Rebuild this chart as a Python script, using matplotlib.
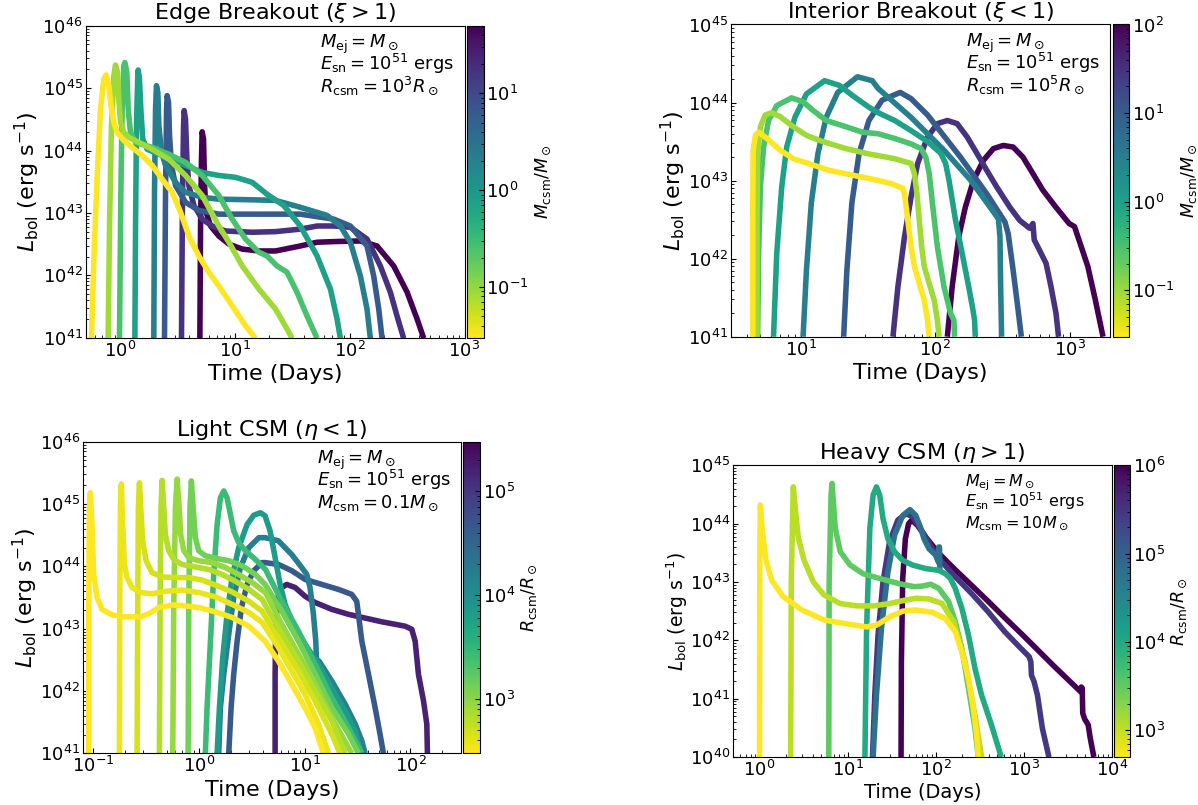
import numpy as np
import matplotlib
matplotlib.use("Agg")
import matplotlib.pyplot as plt
from matplotlib.colors import LogNorm
from matplotlib.cm import ScalarMappable

# ---------------- Panel 1: Edge breakout (colour = M_csm / M_sun) ----------------
edge_mcsm = [0.03, 0.087, 0.25, 0.73, 2.1, 6.1, 17.5, 50.0]
edge_logt = [
    [-0.249, -0.228, -0.199, -0.170, -0.141, -0.121, -0.098, -0.075, -0.054, -0.025, 0.033, 0.105, 0.193, 0.280, 0.367, 0.454, 0.527, 0.599, 0.686, 0.773, 0.860, 0.977, 1.093, 1.180],
    [-0.104, -0.092, -0.075, -0.054, -0.040, -0.022, -0.011, 0.004, 0.033, 0.076, 0.164, 0.280, 0.425, 0.570, 0.715, 0.860, 0.948, 1.064, 1.209, 1.354, 1.454, 1.498],
    [-0.005, 0.007, 0.018, 0.033, 0.042, 0.059, 0.071, 0.091, 0.135, 0.280, 0.425, 0.570, 0.715, 0.860, 0.977, 1.093, 1.209, 1.280, 1.367, 1.454, 1.541, 1.628, 1.716],
    [0.129, 0.135, 0.143, 0.155, 0.158, 0.169, 0.181, 0.198, 0.236, 0.338, 0.454, 0.570, 0.715, 0.860, 1.006, 1.151, 1.280, 1.425, 1.570, 1.716, 1.832, 1.890, 1.919],
    [0.294, 0.300, 0.309, 0.317, 0.329, 0.338, 0.361, 0.396, 0.483, 0.570, 0.715, 0.860, 1.151, 1.354, 1.570, 1.803, 1.919, 2.006, 2.093, 2.151, 2.180],
    [0.387, 0.396, 0.405, 0.410, 0.422, 0.431, 0.448, 0.483, 0.570, 0.686, 0.860, 1.151, 1.354, 1.570, 1.861, 2.006, 2.151, 2.209, 2.253, 2.282],
    [0.535, 0.544, 0.553, 0.558, 0.570, 0.582, 0.599, 0.643, 0.715, 0.802, 0.919, 1.151, 1.354, 1.570, 1.716, 1.861, 2.006, 2.151, 2.267, 2.354, 2.412, 2.470],
    [0.695, 0.701, 0.709, 0.715, 0.727, 0.736, 0.750, 0.788, 0.860, 0.948, 1.064, 1.209, 1.354, 1.570, 1.716, 1.861, 2.093, 2.238, 2.383, 2.500, 2.587, 2.645],
]
edge_logL = [
    [40.99, 42.26, 43.60, 44.66, 45.15, 45.21, 45.04, 44.66, 44.45, 44.29, 44.16, 44.05, 43.92, 43.76, 43.54, 43.33, 43.01, 42.63, 42.31, 42.05, 41.83, 41.51, 41.19, 40.99],
    [40.99, 42.79, 44.40, 45.20, 45.37, 45.25, 44.82, 44.45, 44.29, 44.21, 44.13, 44.02, 43.86, 43.60, 43.28, 42.79, 42.53, 42.15, 41.78, 41.46, 41.14, 40.99],
    [40.99, 43.33, 44.66, 45.36, 45.41, 45.25, 44.66, 44.29, 44.13, 44.05, 43.94, 43.81, 43.60, 43.28, 42.90, 42.58, 42.37, 42.31, 42.15, 42.05, 41.73, 41.35, 40.99],
    [40.99, 42.79, 44.40, 45.25, 45.29, 45.15, 44.66, 44.18, 44.02, 43.94, 43.86, 43.76, 43.65, 43.60, 43.57, 43.49, 43.30, 43.12, 42.79, 42.31, 41.78, 41.30, 40.99],
    [40.99, 43.33, 44.66, 45.04, 44.93, 44.40, 43.97, 43.76, 43.49, 43.33, 43.25, 43.22, 43.21, 43.20, 43.09, 42.96, 42.79, 42.53, 41.99, 41.46, 40.99],
    [40.99, 43.33, 44.66, 44.88, 44.77, 44.24, 43.76, 43.44, 43.17, 43.04, 42.98, 42.98, 42.98, 42.98, 42.90, 42.79, 42.47, 41.99, 41.46, 40.99],
    [40.99, 43.33, 44.40, 44.64, 44.50, 43.86, 43.44, 43.12, 42.90, 42.79, 42.71, 42.69, 42.70, 42.74, 42.79, 42.79, 42.77, 42.58, 42.15, 41.73, 41.35, 40.99],
    [40.99, 42.79, 43.86, 44.30, 44.18, 43.44, 43.01, 42.79, 42.63, 42.50, 42.42, 42.39, 42.39, 42.47, 42.53, 42.54, 42.55, 42.47, 42.15, 41.73, 41.30, 40.99],
]

# ---------------- Panel 2: Interior breakout (colour = M_csm / M_sun) ----------------
int_mcsm = [0.03, 0.095, 0.3, 0.97, 3.1, 9.8, 31.0, 100.0]
int_logt = [
    [0.641, 0.641, 0.644, 0.661, 0.685, 0.747, 0.845, 0.943, 1.090, 1.212, 1.384, 1.580, 1.673, 1.759, 1.771, 1.796, 1.820, 1.845, 1.881, 1.918, 1.943, 1.955],
    [0.673, 0.673, 0.678, 0.698, 0.734, 0.783, 0.845, 0.943, 1.041, 1.163, 1.335, 1.482, 1.575, 1.698, 1.820, 1.845, 1.864, 1.881, 1.899, 1.918, 1.955, 1.992, 2.016, 2.028],
    [0.678, 0.685, 0.698, 0.722, 0.759, 0.820, 0.930, 1.016, 1.090, 1.188, 1.335, 1.457, 1.575, 1.698, 1.820, 1.894, 1.930, 1.955, 1.979, 2.016, 2.065, 2.114, 2.139, 2.144],
    [0.796, 0.820, 0.857, 0.894, 0.955, 1.041, 1.176, 1.286, 1.384, 1.506, 1.575, 1.698, 1.820, 1.943, 2.041, 2.077, 2.102, 2.151, 2.200, 2.249, 2.281, 2.293, 2.298],
    [1.016, 1.041, 1.077, 1.127, 1.188, 1.274, 1.421, 1.531, 1.575, 1.820, 2.065, 2.261, 2.408, 2.470, 2.482, 2.487, 2.494],
    [1.318, 1.342, 1.379, 1.433, 1.506, 1.604, 1.739, 1.820, 1.943, 2.188, 2.384, 2.519, 2.543, 2.580, 2.617, 2.641],
    [1.685, 1.722, 1.771, 1.820, 1.869, 1.943, 2.016, 2.090, 2.163, 2.237, 2.310, 2.384, 2.457, 2.555, 2.629, 2.702, 2.727, 2.737, 2.764, 2.825, 2.862, 2.899, 2.918],
    [2.090, 2.126, 2.175, 2.224, 2.286, 2.359, 2.433, 2.506, 2.580, 2.653, 2.727, 2.800, 2.898, 2.997, 3.037, 3.136, 3.192, 3.249],
]
int_logL = [
    [41.0, 42.49, 43.39, 43.58, 43.62, 43.54, 43.39, 43.28, 43.20, 43.13, 43.07, 43.00, 42.96, 42.90, 42.83, 42.49, 42.15, 41.90, 41.68, 41.47, 41.21, 41.0],
    [41.0, 42.49, 43.35, 43.69, 43.84, 43.87, 43.82, 43.69, 43.58, 43.50, 43.41, 43.35, 43.32, 43.28, 43.22, 43.09, 42.83, 42.49, 42.15, 41.90, 41.68, 41.47, 41.21, 41.0],
    [41.0, 42.07, 42.92, 43.43, 43.77, 43.96, 44.06, 44.01, 43.90, 43.77, 43.69, 43.62, 43.60, 43.54, 43.47, 43.41, 43.30, 43.09, 42.71, 42.15, 41.64, 41.30, 41.21, 41.0],
    [41.0, 42.07, 42.92, 43.43, 43.81, 44.11, 44.28, 44.22, 44.09, 43.94, 43.87, 43.77, 43.64, 43.50, 43.35, 43.22, 43.01, 42.49, 42.07, 41.64, 41.34, 41.21, 41.0],
    [41.0, 41.85, 42.71, 43.35, 43.81, 44.13, 44.33, 44.28, 44.18, 43.81, 43.39, 43.01, 42.66, 42.51, 42.28, 41.64, 41.0],
    [41.0, 41.85, 42.71, 43.35, 43.77, 44.03, 44.13, 44.05, 43.84, 43.30, 42.83, 42.47, 42.32, 41.85, 41.34, 41.0],
    [41.0, 41.64, 42.28, 42.79, 43.22, 43.56, 43.73, 43.77, 43.73, 43.56, 43.35, 43.13, 42.92, 42.66, 42.49, 42.39, 42.45, 42.24, 42.15, 41.94, 41.64, 41.30, 41.0],
    [41.0, 41.64, 42.28, 42.66, 43.01, 43.26, 43.41, 43.45, 43.43, 43.30, 43.09, 42.88, 42.66, 42.45, 42.41, 41.90, 41.47, 41.0],
]

# ---------------- Panel 3: Light CSM (colour = R_csm / R_sun) ----------------
light_rcsm = [300, 370, 470, 640, 900, 1300, 2700, 7000, 16000, 45000, 160000]
light_logt = [
    [-1.040, -1.040, -1.034, -1.025, -1.009, -0.993, -0.961, -0.914, -0.820, -0.694, -0.552, -0.473, -0.379, -0.253, -0.158, -0.001, 0.157, 0.314, 0.472, 0.626, 0.752, 0.878, 1.004, 1.099, 1.177],
    [-0.750, -0.747, -0.741, -0.732, -0.719, -0.703, -0.678, -0.631, -0.552, -0.442, -0.316, -0.158, -0.001, 0.157, 0.314, 0.472, 0.598, 0.752, 0.878, 1.004, 1.130, 1.225],
    [-0.583, -0.577, -0.571, -0.561, -0.549, -0.530, -0.498, -0.442, -0.347, -0.221, -0.095, 0.031, 0.157, 0.314, 0.472, 0.598, 0.784, 0.941, 1.099, 1.256, 1.335],
    [-0.372, -0.366, -0.357, -0.347, -0.335, -0.316, -0.284, -0.237, -0.158, -0.032, 0.094, 0.220, 0.346, 0.472, 0.598, 0.784, 0.941, 1.099, 1.256, 1.382],
    [-0.246, -0.237, -0.221, -0.205, -0.190, -0.171, -0.142, -0.095, -0.001, 0.125, 0.251, 0.377, 0.504, 0.630, 0.784, 0.941, 1.099, 1.256, 1.445],
    [-0.101, -0.095, -0.083, -0.070, -0.054, -0.032, -0.001, 0.062, 0.157, 0.283, 0.409, 0.535, 0.626, 0.784, 0.941, 1.099, 1.256, 1.414, 1.508],
    [0.062, 0.078, 0.110, 0.141, 0.173, 0.204, 0.236, 0.267, 0.299, 0.330, 0.377, 0.441, 0.535, 0.630, 0.784, 0.941, 1.099, 1.256, 1.414, 1.540],
    [0.173, 0.195, 0.226, 0.267, 0.314, 0.377, 0.456, 0.519, 0.582, 0.626, 0.673, 0.721, 0.768, 0.815, 0.894, 1.004, 1.130, 1.256, 1.382, 1.477, 1.533],
    [0.188, 0.204, 0.236, 0.283, 0.330, 0.393, 0.472, 0.567, 0.626, 0.752, 0.878, 0.973, 1.020, 1.051, 1.083, 1.105, 1.117, 1.124, 1.136, 1.256, 1.382, 1.477, 1.540, 1.571],
    [0.283, 0.305, 0.330, 0.362, 0.403, 0.456, 0.519, 0.598, 0.626, 0.752, 0.878, 1.004, 1.162, 1.319, 1.445, 1.492, 1.508, 1.540, 1.603, 1.666, 1.713, 1.744],
    [0.721, 0.721, 0.727, 0.746, 0.784, 0.831, 0.910, 1.004, 1.099, 1.256, 1.414, 1.571, 1.729, 1.949, 2.012, 2.044, 2.075, 2.123, 2.154, 2.160],
]
light_logL = [
    [41.0, 43.34, 44.94, 45.18, 44.67, 43.87, 43.50, 43.31, 43.22, 43.19, 43.19, 43.24, 43.34, 43.38, 43.37, 43.34, 43.27, 43.18, 43.04, 42.80, 42.48, 42.11, 41.73, 41.41, 41.0],
    [41.0, 43.34, 44.94, 45.32, 44.67, 44.03, 43.82, 43.66, 43.58, 43.56, 43.60, 43.62, 43.58, 43.51, 43.39, 43.26, 43.10, 42.70, 42.32, 41.95, 41.47, 41.0],
    [41.0, 43.34, 44.94, 45.34, 44.94, 44.41, 44.09, 43.90, 43.83, 43.82, 43.82, 43.78, 43.70, 43.59, 43.44, 43.28, 42.75, 42.32, 41.84, 41.31, 41.0],
    [41.0, 43.34, 44.94, 45.38, 45.05, 44.51, 44.25, 44.11, 44.03, 43.99, 43.95, 43.87, 43.76, 43.63, 43.47, 42.91, 42.48, 42.00, 41.52, 41.0],
    [41.0, 43.34, 44.94, 45.40, 45.05, 44.51, 44.25, 44.14, 44.09, 44.06, 43.98, 43.87, 43.74, 43.58, 43.07, 42.59, 42.11, 41.57, 41.0],
    [41.0, 43.34, 44.94, 45.37, 44.94, 44.46, 44.25, 44.17, 44.13, 44.09, 44.01, 43.87, 43.71, 43.28, 42.80, 42.27, 41.73, 41.31, 41.0],
    [41.0, 41.73, 42.80, 43.87, 44.67, 45.10, 45.21, 45.10, 44.83, 44.57, 44.38, 44.25, 44.11, 43.95, 43.44, 42.96, 42.43, 41.89, 41.41, 41.0],
    [41.0, 41.73, 42.53, 43.23, 43.82, 44.30, 44.67, 44.82, 44.86, 44.81, 44.57, 44.14, 43.71, 43.39, 43.07, 42.75, 42.43, 42.05, 41.68, 41.36, 41.0],
    [41.0, 41.73, 42.27, 42.91, 43.50, 43.98, 44.30, 44.46, 44.46, 44.41, 44.19, 43.98, 43.87, 43.66, 43.23, 42.80, 42.27, 42.00, 42.48, 42.16, 41.79, 41.47, 41.20, 41.0],
    [41.0, 41.73, 42.27, 42.80, 43.34, 43.71, 43.93, 44.06, 44.06, 44.03, 43.93, 43.79, 43.71, 43.63, 43.55, 43.44, 43.23, 42.80, 42.27, 41.73, 41.30, 41.0],
    [41.0, 42.27, 43.07, 43.50, 43.66, 43.71, 43.66, 43.52, 43.42, 43.31, 43.23, 43.17, 43.11, 43.04, 42.99, 42.80, 42.27, 41.84, 41.47, 41.0],
]

# ---------------- Panel 4: Heavy CSM (colour = R_csm / R_sun) ----------------
heavy_rcsm = [500, 1100, 3300, 10000, 60000, 300000, 1000000]
heavy_logt = [
    [0.0, 0.003, 0.009, 0.030, 0.073, 0.138, 0.267, 0.482, 0.730, 0.954, 1.215, 1.327, 1.476, 1.625, 1.774, 1.960, 2.110, 2.221, 2.296, 2.371, 2.427, 2.464, 2.482],
    [0.353, 0.360, 0.383, 0.404, 0.439, 0.503, 0.611, 0.730, 0.916, 1.103, 1.289, 1.476, 1.625, 1.774, 1.923, 2.072, 2.203, 2.333, 2.445, 2.520],
    [0.786, 0.790, 0.812, 0.823, 0.860, 0.916, 1.028, 1.177, 1.364, 1.588, 1.755, 1.849, 1.942, 2.035, 2.147, 2.221, 2.296, 2.371, 2.445, 2.482],
    [1.196, 1.215, 1.252, 1.289, 1.327, 1.364, 1.401, 1.457, 1.532, 1.625, 1.737, 1.886, 2.035, 2.110, 2.166, 2.221, 2.296, 2.371, 2.445, 2.520, 2.632, 2.743],
    [1.289, 1.327, 1.383, 1.457, 1.532, 1.625, 1.707, 1.774, 1.830, 1.867, 1.923, 1.998, 2.030, 2.035, 2.042, 2.046],
    [1.282, 1.308, 1.345, 1.401, 1.476, 1.569, 1.662, 1.737, 1.849, 1.960, 2.072, 2.221, 2.408, 2.594, 2.781, 2.967, 3.060, 3.079, 3.086, 3.116, 3.154, 3.210, 3.284],
    [1.606, 1.610, 1.625, 1.655, 1.692, 1.729, 1.793, 1.886, 2.035, 2.221, 2.408, 2.594, 2.781, 2.967, 3.154, 3.340, 3.526, 3.643, 3.652, 3.662, 3.668, 3.690, 3.730, 3.750, 3.794],
]
heavy_logL = [
    [40.0, 43.50, 44.32, 43.89, 43.38, 43.03, 42.75, 42.52, 42.35, 42.29, 42.23, 42.26, 42.40, 42.50, 42.52, 42.48, 42.37, 42.15, 41.80, 41.35, 40.83, 40.38, 40.0],
    [40.0, 43.00, 44.63, 44.29, 43.77, 43.38, 43.00, 42.78, 42.63, 42.59, 42.59, 42.63, 42.68, 42.72, 42.71, 42.63, 42.32, 41.63, 40.72, 40.0],
    [40.0, 43.00, 44.50, 44.69, 43.92, 43.52, 43.29, 43.14, 43.06, 42.97, 42.92, 42.93, 42.96, 42.89, 42.66, 42.32, 41.86, 41.18, 40.49, 40.0],
    [40.0, 42.20, 43.92, 44.49, 44.63, 44.49, 44.09, 43.74, 43.52, 43.37, 43.29, 43.23, 43.20, 43.14, 43.06, 42.89, 42.55, 42.09, 41.52, 41.06, 40.55, 40.0],
    [40.0, 41.06, 42.20, 43.17, 43.80, 44.14, 44.24, 44.14, 43.92, 43.74, 43.57, 43.46, 43.34, 43.60, 43.60, 43.20],
    [40.0, 41.06, 42.09, 43.00, 43.69, 44.06, 44.17, 44.12, 43.86, 43.57, 43.34, 43.09, 42.80, 42.49, 42.15, 41.86, 41.72, 41.63, 41.40, 41.29, 41.06, 40.49, 40.0],
    [40.0, 41.63, 43.06, 43.74, 44.00, 44.06, 43.97, 43.77, 43.49, 43.21, 42.94, 42.67, 42.39, 42.12, 41.84, 41.56, 41.29, 41.12, 41.20, 41.18, 40.75, 40.65, 40.55, 40.35, 40.0],
]

# ---------------- Figure ----------------
W, H = 1198, 805
fig = plt.figure(figsize=(W / 100, H / 100), dpi=100)


def box(x0, x1, y0, y1):
    return [x0 / W, 1 - y1 / H, (x1 - x0) / W, (y1 - y0) / H]


cmap = plt.get_cmap("viridis_r")


def panel(axbox, cbbox, vals, vmin, vmax, logts, logLs, xlim, ylim, title, ann,
          cblabel, tick_fs=13, xl_fs=16, yl_fs=16, ann_fs=13, cb_fs=13,
          title_pad=5, ann_x=0.62):
    ax = fig.add_axes(box(*axbox))
    cax = fig.add_axes(box(*cbbox))
    norm = LogNorm(vmin=vmin, vmax=vmax)
    for v, lt, lL in reversed(list(zip(vals, logts, logLs))):
        ax.plot(10 ** np.array(lt), 10 ** np.array(lL), color=cmap(norm(v)),
                lw=4, solid_joinstyle="round", solid_capstyle="butt")
    ax.set_xscale("log")
    ax.set_yscale("log")
    ax.set_xlim(*xlim)
    ax.set_ylim(*ylim)
    ax.set_title(title, fontsize=16, pad=title_pad)
    ax.set_xlabel("Time (Days)", fontsize=xl_fs, labelpad=2.5)
    ax.set_ylabel(r"$L_{\rm bol}$ (erg s$^{-1}$)", fontsize=yl_fs, labelpad=0)
    ax.tick_params(which="both", direction="in", labelsize=tick_fs, pad=2)
    ax.tick_params(which="major", length=3.5)
    ax.tick_params(which="minor", length=2)
    for yy, s in zip([0.928, 0.858, 0.788], ann):
        ax.text(ann_x, yy, s, transform=ax.transAxes, fontsize=ann_fs,
                va="baseline", ha="left")
    sm = ScalarMappable(norm=norm, cmap=cmap)
    cb = fig.colorbar(sm, cax=cax)
    cb.ax.tick_params(which="both", direction="in", labelsize=cb_fs, pad=2)
    cb.set_label(cblabel, fontsize=12.5, labelpad=3.5)
    return ax


panel((85.5, 464.5, 25.7, 337.7), (466.5, 483.5, 25.7, 337.7),
      edge_mcsm, 0.03, 50, edge_logt, edge_logL, (0.5, 1000), (1e41, 1e46),
      r"Edge Breakout ($\xi > 1$)",
      [r"$M_{\rm ej} = M_\odot$", r"$E_{\rm sn} = 10^{51}$ ergs",
       r"$R_{\rm csm} = 10^3R_\odot$"],
      r"$M_{\rm csm}/M_\odot$")

panel((730.7, 1110, 24.5, 336.7), (1112.7, 1129.3, 24.5, 336.7),
      int_mcsm, 0.03, 100, int_logt, int_logL, (3, 2000), (1e41, 1e45),
      r"Interior Breakout ($\xi < 1$)",
      [r"$M_{\rm ej} = M_\odot$", r"$E_{\rm sn} = 10^{51}$ ergs",
       r"$R_{\rm csm} = 10^5R_\odot$"],
      r"$M_{\rm csm}/M_\odot$")

panel((82.7, 461, 441.7, 753.3), (463, 480, 441.7, 753.3),
      light_rcsm, 300, 3e5, light_logt, light_logL, (0.08, 300), (1e41, 1e46),
      r"Light CSM ($\eta < 1$)",
      [r"$M_{\rm ej} = M_\odot$", r"$E_{\rm sn} = 10^{51}$ ergs",
       r"$M_{\rm csm} = 0.1M_\odot$"],
      r"$R_{\rm csm}/R_\odot$", title_pad=3.5)

panel((733, 1112, 465.3, 757), (1114, 1130, 465.3, 757),
      heavy_rcsm, 500, 1e6, heavy_logt, heavy_logL, (0.5, 1e4), (1e40, 1e45),
      r"Heavy CSM ($\eta > 1$)",
      [r"$M_{\rm ej} = M_\odot$", r"$E_{\rm sn} = 10^{51}$ ergs",
       r"$M_{\rm csm} = 10M_\odot$"],
      r"$R_{\rm csm}/R_\odot$", xl_fs=14, yl_fs=13.5, ann_fs=11.5,
      title_pad=3.5, ann_x=0.613)

fig.savefig("out.png", dpi=100)
